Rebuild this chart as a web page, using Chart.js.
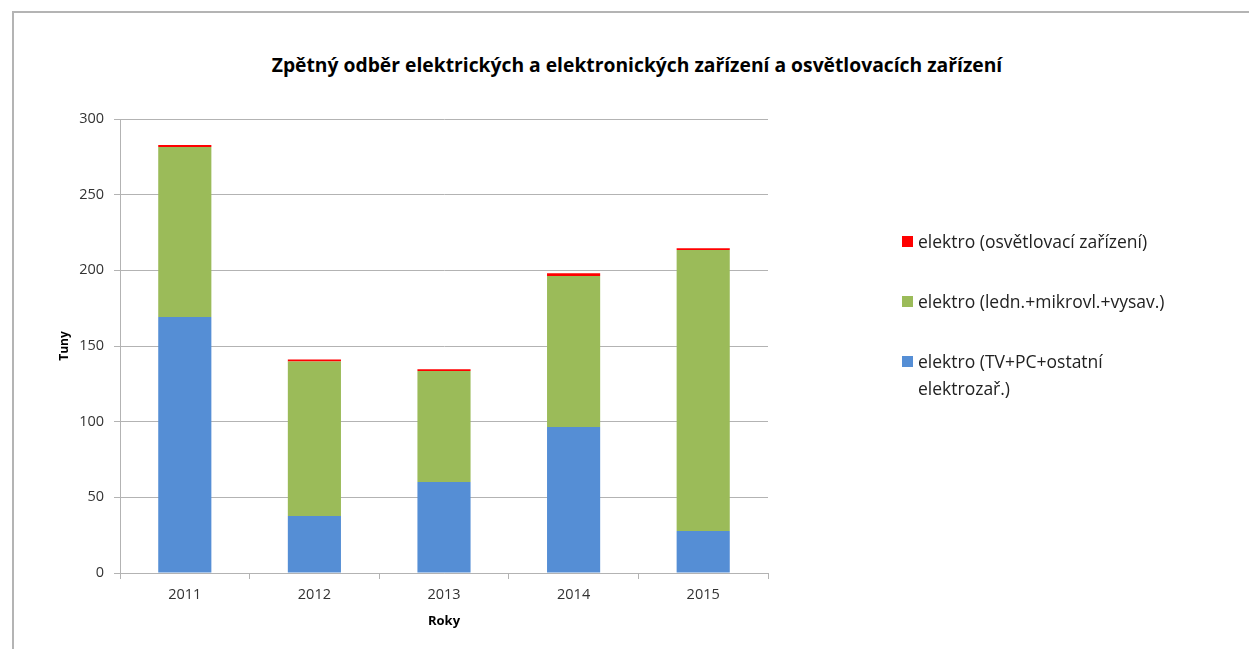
<!DOCTYPE html>
<html>
<head>
<meta charset="utf-8">
<script src="https://cdn.jsdelivr.net/npm/chart.js@4/dist/chart.umd.min.js"></script>
<style>
  html, body { margin: 0; padding: 0; background: #fff; overflow: hidden; }
  body { width: 1249px; height: 649px; position: relative; font-family: "Open Sans", sans-serif; }
  #frame { position: absolute; left: 12px; top: 11px; width: 1300px; height: 700px;
           border-left: 2px solid #b4b4b4; border-top: 2px solid #b4b4b4; }
  #title { position: absolute; left: 12px; width: 1250px; top: 51px; text-align: center;
           font: bold 19.3px "Open Sans", sans-serif; color: #000; }
  #chartBox { position: absolute; left: 0; top: 0; width: 1249px; height: 649px; }
  #legend { position: absolute; left: 902px; top: 228px; width: 280px; font: 17.5px "Open Sans", sans-serif; color: #222; }
  #legend .item { position: absolute; left: 0; width: 268px; padding-left: 16px; line-height: 27px; }
  #legend .box { position: absolute; left: 0; top: 8px; width: 11px; height: 11px; }
</style>
</head>
<body>
<div id="frame"></div>
<div id="title">Zpětný odběr elektrických a elektronických zařízení a osvětlovacích zařízení</div>
<div id="chartBox"><canvas id="odberChart" width="1249" height="649"></canvas></div>
<div id="legend"></div>
<script>
// data z grafu
const roky = ['2011', '2012', '2013', '2014', '2015'];
const tvPc = [169.2, 37.7, 60.1, 96.5, 27.8];
const lednMikro = [112.3, 102.1, 73.4, 99.8, 185.6];
const osvetleni = [1.3, 1.3, 1.1, 1.8, 1.2];
const nazvy = ['elektro (TV+PC+ostatní elektrozař.)', 'elektro (ledn.+mikrovl.+vysav.)', 'elektro (osvětlovací zařízení)'];
const barvy = ['#558ed5', '#9bbb59', '#ff0000'];

const mrizka = '#b3b3b3';
const canvas = document.getElementById('odberChart');
const ctx = canvas.getContext('2d');

const chart = new Chart(ctx, {
    type: 'bar',
    data: {
        labels: roky,
        datasets: [
            { label: nazvy[0], data: tvPc, backgroundColor: barvy[0] },
            { label: nazvy[1], data: lednMikro, backgroundColor: barvy[1] },
            { label: nazvy[2], data: osvetleni, backgroundColor: barvy[2] }
        ]
    },
    options: {
        responsive: false,
        animation: false,
        layout: { padding: { left: 53, right: 481, top: 119, bottom: 16 } },
        datasets: { bar: { barPercentage: 0.41, categoryPercentage: 1 } },
        scales: {
            x: {
                stacked: true,
                afterFit: s => { s.height = 60; },
                grid: { offset: true, drawOnChartArea: false, color: mrizka, tickLength: 6 },
                border: { color: mrizka },
                ticks: { color: '#333', font: { family: 'Open Sans', size: 14.5 }, padding: 7 },
                title: { display: true, text: 'Roky', color: '#000', font: { family: 'Open Sans', size: 13, weight: 'bold' } }
            },
            y: {
                stacked: true,
                min: 0,
                max: 300,
                afterFit: s => { s.width = 67; },
                grid: { color: mrizka, tickLength: 6 },
                border: { color: mrizka },
                ticks: { stepSize: 50, color: '#333', font: { family: 'Open Sans', size: 14.5 }, padding: 10 },
                title: { display: true, text: 'Tuny', color: '#000', font: { family: 'Open Sans', size: 12, weight: 'bold' } }
            }
        },
        plugins: {
            legend: { display: false },
            tooltip: { enabled: false },
            title: { display: false }
        }
    }
});

// legenda vpravo (obrácené pořadí jako v Excelu)
const legendEl = document.getElementById('legend');
const poziceY = [0, 60, 120];
chart.data.datasets.slice().reverse().forEach((ds, i) => {
    const item = document.createElement('div');
    item.className = 'item';
    item.style.top = poziceY[i] + 'px';
    item.innerHTML = '<span class="box" style="background:' + ds.backgroundColor + '"></span>' + ds.label;
    legendEl.appendChild(item);
});
</script>
</body>
</html>
